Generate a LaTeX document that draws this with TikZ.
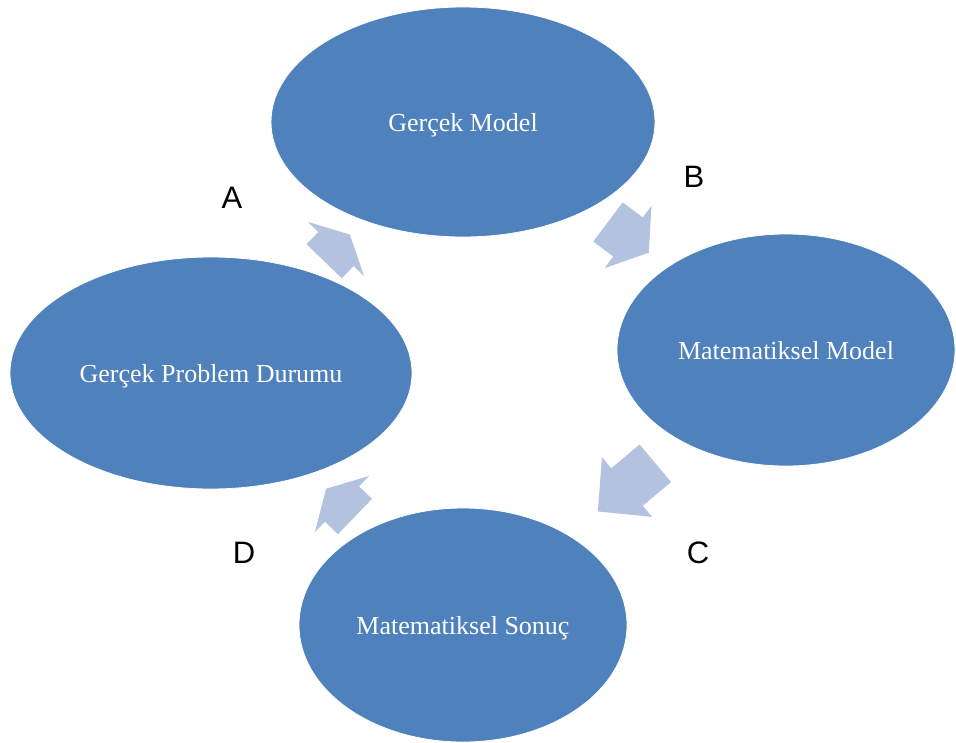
\documentclass[tikz,border=0pt]{standalone}
\usepackage{fontspec}
\setmainfont{Liberation Serif}
\newfontfamily\labelfont{Liberation Sans}
\usetikzlibrary{shapes.geometric,positioning}
\definecolor{phaseblue}{RGB}{79,129,189}
\definecolor{arrowblue}{RGB}{179,194,222}

\begin{document}
\begin{tikzpicture}[x=1pt, y=-1pt,
  phase/.style={ellipse, fill=phaseblue, draw=white, line width=0.8pt, text=white, inner sep=0pt, text depth=0pt, font=\fontsize{26}{30}\selectfont},
  cyclearrow/.style={fill=arrowblue, draw=none},
  steplabel/.style={font=\labelfont\fontsize{31}{36}\selectfont, text=black}]
\useasboundingbox (0,0) rectangle (956,742);
% Phases
\node[phase, minimum width=384pt, minimum height=230pt] (gm) at (463,122) {Gerçek Model};
\node[phase, minimum width=338pt, minimum height=232pt] (mm) at (786,350) {Matematiksel Model};
\node[phase, minimum width=328pt, minimum height=234pt] (ms) at (463,625) {Matematiksel Sonuç};
\node[phase, minimum width=402pt, minimum height=232pt] (gp) at (211,373) {Gerçek Problem Durumu};
% Cycle arrows
\foreach \name/\cx/\cy/\rot/\tl/\hl in {arrA/336/249/46/17/20, arrB/628/237/-37/25/26,
    arrC/627/487/-140/37/38, arrD/342/504/136/18/22} {
  \coordinate (\name) at (\cx,\cy);
  \fill[cyclearrow, shift={(\name)}, rotate=\rot]
    (-\tl,-24.5) -- (0,-24.5) -- (0,-39) -- (\hl,0) -- (0,39) -- (0,24.5) -- (-\tl,24.5) -- cycle;
}
% Step labels
\node[steplabel] (la) at (232,198) {A};
\node[steplabel] (lb) at (694,177) {B};
\node[steplabel] (lc) at (698,553) {C};
\node[steplabel] (ld) at (244,553) {D};
\end{tikzpicture}
\end{document}
